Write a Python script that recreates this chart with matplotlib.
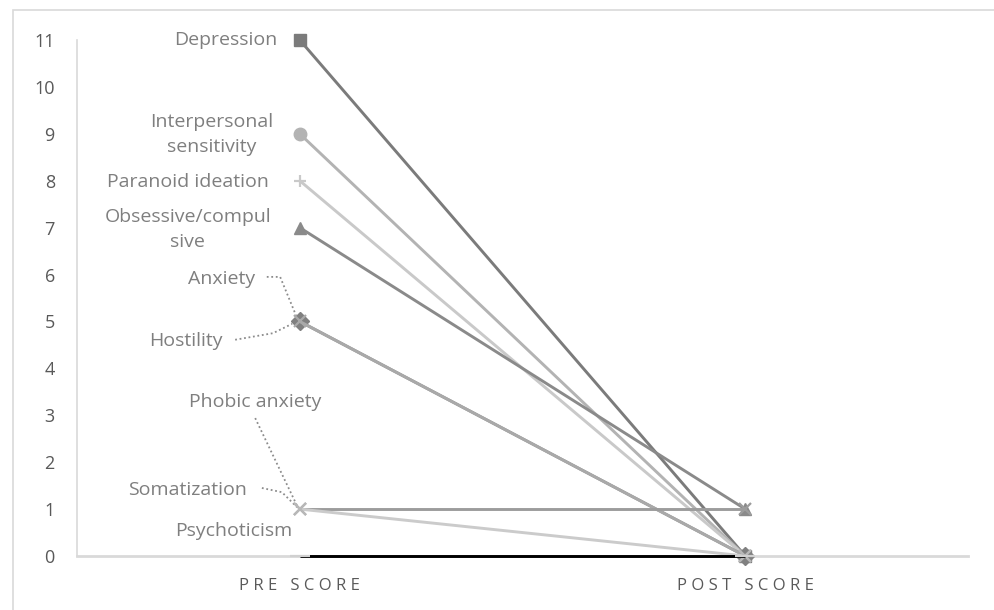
import matplotlib.pyplot as plt

plt.rcParams['font.family'] = ['Open Sans', 'DejaVu Sans']

categories = ["PRE SCORE", "POST SCORE"]
names = ["Depression", "Interpersonal\nsensitivity", "Paranoid ideation",
         "Obsessive/compul\nsive", "Anxiety", "Hostility", "Phobic anxiety",
         "Somatization", "Psychoticism"]
pre_scores = [11, 9, 8, 7, 5, 5, 1, 1, 0]
post_scores = [0, 0, 0, 1, 0, 0, 1, 0, 0]

# look of each series (Excel-like greys)
line_colors = ["#7b7b7b", "#b3b3b3", "#c9c9c9", "#8a8a8a", "#8c8c8c",
               "#a9a9a9", "#9c9c9c", "#cbcbcb", "#000000"]
marker_colors = ["#7b7b7b", "#b3b3b3", "#c9c9c9", "#8a8a8a", "#808080",
                 "#a9a9a9", "#9c9c9c", "#b8b8b8", "#d0d0d0"]
markers = ["s", "o", "+", "^", "D", "x", "x", "x", "_"]

# label placement (x, y in data units) and leader lines
label_pos = [(-0.05, 11), (-0.197, 8.98), (-0.251, 7.97), (-0.251, 6.97),
             (-0.175, 5.9), (-0.255, 4.58), (-0.10, 3.28), (-0.251, 1.41),
             (-0.148, 0.53)]
leaders = {
    4: [(-0.074, 5.95), (-0.044, 5.95), (-0.008, 5.12)],
    5: [(-0.145, 4.61), (-0.06, 4.75), (-0.017, 4.95)],
    6: [(-0.10, 2.94), (-0.006, 1.07)],
    7: [(-0.085, 1.45), (-0.04, 1.36), (-0.006, 1.04)],
}

fig = plt.figure(figsize=(9.95, 6.10), dpi=100)
fig.patches.append(plt.Rectangle((13 / 995, -0.1), 1.2, 600 / 610 + 0.1,
                                 transform=fig.transFigure, fill=False,
                                 edgecolor="#d9d9d9", linewidth=1.2))
ax = fig.add_axes([77 / 995, 54 / 610, 891 / 995, 516 / 610])

xs = [0, 1]
for i in range(len(names)):
    ax.plot(xs, [pre_scores[i], post_scores[i]], color=line_colors[i],
            linewidth=2.1, marker=markers[i], markersize=9 if markers[i] != "_" else 14,
            markerfacecolor=marker_colors[i], markeredgecolor=marker_colors[i],
            markeredgewidth=1.6 if markers[i] in ("x", "+", "_") else 1,
            solid_capstyle="butt", clip_on=False, zorder=3)
    ax.text(label_pos[i][0], label_pos[i][1], names[i],
            ha="right" if i == 0 else "center", va="center",
            fontsize=14, color="#7f7f7f", linespacing=1.5)
    if i in leaders:
        lx, ly = zip(*leaders[i])
        ax.plot(lx, ly, color="#8c8c8c", linestyle=(0, (1, 1.5)),
                linewidth=1.3, clip_on=False)

ax.set_xlim(-0.5, 1.5)
ax.set_ylim(0, 11)
ax.set_yticks(range(0, 12))
ax.set_xticks(xs)
ax.set_xticklabels(["   ".join(" ".join(w) for w in c.split()) for c in categories],
                   fontsize=12, color="#595959")
ax.tick_params(axis="y", length=0, pad=16, labelsize=13, labelcolor="#595959")
ax.tick_params(axis="x", length=0, pad=16)
for s in ["top", "right"]:
    ax.spines[s].set_visible(False)
ax.spines["left"].set_color("#d9d9d9")
ax.spines["bottom"].set_color("#d9d9d9")
ax.spines["left"].set_linewidth(1.2)
ax.spines["bottom"].set_linewidth(2)

fig.savefig("out.png", dpi=100)
